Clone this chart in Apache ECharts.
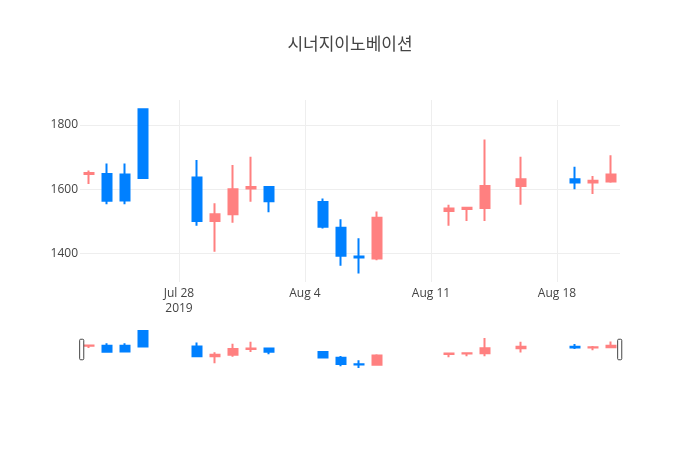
<!DOCTYPE html>
<html>
<head>
<meta charset="utf-8">
<script src="https://cdn.jsdelivr.net/npm/echarts@6/dist/echarts.min.js"></script>
<style>
  html, body { margin: 0; padding: 0; background: #fff; }
  #chart { width: 700px; height: 450px; }
</style>
</head>
<body>
<div id="chart"></div>
<script>
// 일별 시세 (날짜, 시가, 종가, 저가, 고가)
const dates = ['2019-07-23', '2019-07-24', '2019-07-25', '2019-07-26', '2019-07-29',
  '2019-07-30', '2019-07-31', '2019-08-01', '2019-08-02', '2019-08-05',
  '2019-08-06', '2019-08-07', '2019-08-08', '2019-08-12', '2019-08-13',
  '2019-08-14', '2019-08-16', '2019-08-19', '2019-08-20', '2019-08-21'];
const opens  = [1647, 1647, 1646, 1849, 1636, 1501, 1522, 1602, 1607, 1560, 1480, 1390, 1384, 1532, 1538, 1541, 1610, 1631, 1621, 1624];
const closes = [1650, 1564, 1565, 1635, 1501, 1522, 1600, 1607, 1562, 1483, 1392, 1387, 1511, 1540, 1542, 1610, 1631, 1621, 1626, 1646];
const lows   = [1616, 1553, 1553, 1633, 1486, 1405, 1495, 1561, 1528, 1477, 1361, 1337, 1378, 1486, 1501, 1501, 1551, 1600, 1585, 1620];
const highs  = [1658, 1680, 1680, 1850, 1691, 1556, 1675, 1701, 1610, 1571, 1506, 1447, 1530, 1551, 1544, 1755, 1701, 1670, 1641, 1706];

// 축 눈금
const xTicks = ['2019-07-28', '2019-08-04', '2019-08-11', '2019-08-18'];
const yTicks = [1400, 1600, 1800];

const DAY = 86400000;
const MONTHS = ['Jan', 'Feb', 'Mar', 'Apr', 'May', 'Jun', 'Jul', 'Aug', 'Sep', 'Oct', 'Nov', 'Dec'];
const toTs = s => Date.parse(s + 'T00:00:00Z');

const xMin = toTs(dates[0]) - DAY / 2;
const xMax = toTs(dates[dates.length - 1]) + DAY / 2;
const yMin = 1310.5;
const yMax = 1878;

const UP = '#FF8080';
const DOWN = '#0080FF';
const FONT = '"Open Sans", "Noto Sans CJK KR", sans-serif';

const candles = dates.map((d, i) => [toTs(d), opens[i], closes[i], lows[i], highs[i]]);
const xTickValues = xTicks.map(toTs);

// 첫 눈금에만 연도 표시
function xLabel(v) {
  const d = new Date(v);
  let s = MONTHS[d.getUTCMonth()] + ' ' + d.getUTCDate();
  if (v === xTickValues[0]) s += '\n' + d.getUTCFullYear();
  return s;
}

const chart = echarts.init(document.getElementById('chart'), null, { renderer: 'canvas' });

function candleSeries(idx) {
  return {
    type: 'candlestick',
    xAxisIndex: idx,
    yAxisIndex: idx,
    barWidth: 9,
    encode: { x: 0, y: [1, 2, 3, 4] },
    data: candles,
    itemStyle: {
      color: UP,
      color0: DOWN,
      borderColor: UP,
      borderColor0: DOWN,
      borderWidth: 2
    },
    emphasis: { disabled: true },
    animation: false
  };
}

chart.setOption({
  animation: false,
  title: {
    text: '시너지이노베이션',
    left: 'center',
    top: 32,
    textStyle: { color: '#444', fontSize: 17, fontWeight: 'normal', fontFamily: FONT }
  },
  grid: [
    { left: 80, right: 80, top: 100, height: 182 },
    { left: 80, right: 80, top: 329, height: 41 }
  ],
  xAxis: [
    {
      type: 'value', gridIndex: 0, min: xMin, max: xMax,
      axisLine: { show: false },
      axisTick: { show: false, customValues: xTickValues },
      axisLabel: {
        customValues: xTickValues, formatter: xLabel,
        color: '#444', fontSize: 12, fontFamily: FONT, margin: 4, lineHeight: 15
      },
      splitLine: { show: true, lineStyle: { color: '#eee', width: 1 } }
    },
    {
      type: 'value', gridIndex: 1, min: xMin, max: xMax,
      axisLine: { show: false }, axisTick: { show: false },
      axisLabel: { show: false }, splitLine: { show: false }
    }
  ],
  yAxis: [
    {
      type: 'value', gridIndex: 0, min: yMin, max: yMax,
      axisLine: { show: false },
      axisTick: { show: false, customValues: yTicks },
      axisLabel: {
        customValues: yTicks, formatter: v => String(v),
        color: '#444', fontSize: 12, fontFamily: FONT, margin: 2
      },
      splitLine: { show: true, lineStyle: { color: '#eee', width: 1 } }
    },
    {
      type: 'value', gridIndex: 1, min: yMin, max: yMax,
      axisLine: { show: false }, axisTick: { show: false },
      axisLabel: { show: false }, splitLine: { show: false }
    }
  ],
  // 레인지 슬라이더 손잡이
  dataZoom: [{
    type: 'slider',
    xAxisIndex: [0, 1],
    filterMode: 'none',
    start: 0,
    end: 100,
    left: 80,
    right: 80,
    top: 329,
    height: 41,
    showDataShadow: false,
    showDetail: false,
    brushSelect: false,
    moveHandleSize: 0,
    backgroundColor: 'rgba(0,0,0,0)',
    borderColor: 'rgba(0,0,0,0)',
    fillerColor: 'rgba(0,0,0,0)',
    handleIcon: 'path://M1,0 h2 a1,1 0 0 1 1,1 v18 a1,1 0 0 1 -1,1 h-2 a1,1 0 0 1 -1,-1 v-18 a1,1 0 0 1 1,-1 z',
    handleSize: '50%',
    handleStyle: { color: '#fff', borderColor: '#444', borderWidth: 1 },
    emphasis: { handleStyle: { color: '#fff', borderColor: '#444', borderWidth: 1 } }
  }],
  series: [candleSeries(0), candleSeries(1)]
});
</script>
</body>
</html>
